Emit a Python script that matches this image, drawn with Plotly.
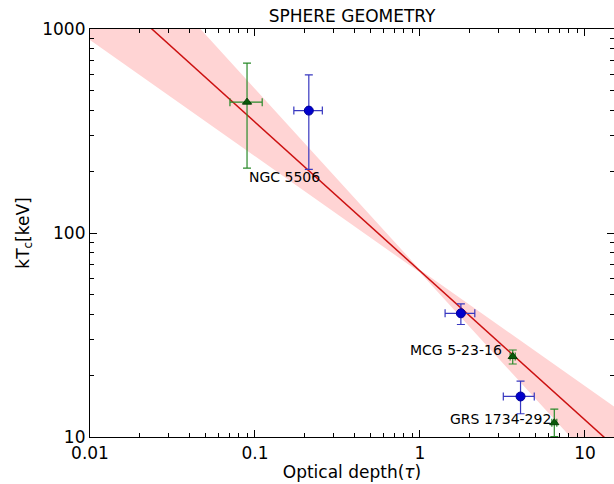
import numpy as np
import plotly.graph_objects as go

# ---- data ----
blue_tau = [0.212, 1.77, 4.07]
blue_tau_lo = [0.172, 1.42, 3.20]
blue_tau_hi = [0.256, 2.15, 4.93]
blue_kt = [398, 40.4, 15.8]
blue_kt_lo = [205, 35.6, 13.0]
blue_kt_hi = [596, 44.9, 18.8]

green_tau = [0.0895, 3.65, 6.52]
green_tau_lo = [0.0705, 3.52, 6.30]
green_tau_hi = [0.1106, 3.78, 6.75]
green_kt = [438, 24.8, 11.75]
green_kt_lo = [208, 22.8, 10.04]
green_kt_hi = [680, 26.7, 13.7]

fit_x = [0.01, 15]
fit_y = [1879, 9.02]

band_x = [0.01, 1.0, 15]
band_upper = [3926, 66, 14.1]
band_lower = [883, 64, 5.85]

labels = ["NGC 5506", "MCG 5-23-16", "GRS 1734-292"]
label_x = [0.089, 3.23, 6.37]
label_y = [188, 26.7, 12.2]
label_anchor = ["left", "right", "right"]

x_ticks = [0.01, 0.1, 1, 10]
x_ticktext = ["0.01", "0.1", "1", "10"]
y_ticks = [10, 100, 1000]
y_ticktext = ["10", "100", "1000"]

x_minor = [m * 10.0 ** e for e in range(-2, 2) for m in range(2, 10)]
y_minor = [m * 10.0 ** e for e in range(1, 3) for m in range(2, 10)]

FONT = "DejaVu Sans"

fig = go.Figure()

# confidence band
fig.add_trace(go.Scatter(
    x=band_x + band_x[::-1],
    y=band_upper + band_lower[::-1],
    fill="toself", fillcolor="#ffd4d4", line=dict(width=0),
    mode="lines", hoverinfo="skip", showlegend=False))

# fit line
fig.add_trace(go.Scatter(
    x=fit_x, y=fit_y, mode="lines",
    line=dict(color="#cc1111", width=1.5), showlegend=False))

def errs(v, lo, hi):
    return ([h - c for c, h in zip(v, hi)], [c - l for c, l in zip(v, lo)])

bx_p, bx_m = errs(blue_tau, blue_tau_lo, blue_tau_hi)
by_p, by_m = errs(blue_kt, blue_kt_lo, blue_kt_hi)
gx_p, gx_m = errs(green_tau, green_tau_lo, green_tau_hi)
gy_p, gy_m = errs(green_kt, green_kt_lo, green_kt_hi)

fig.add_trace(go.Scatter(
    x=green_tau, y=green_kt, mode="markers",
    marker=dict(symbol="triangle-up", size=8, color="#0a5a0a",
                line=dict(color="#063f06", width=1)),
    error_x=dict(type="data", symmetric=False, array=gx_p, arrayminus=gx_m,
                 color="#2a8a2a", thickness=1.2, width=4),
    error_y=dict(type="data", symmetric=False, array=gy_p, arrayminus=gy_m,
                 color="#2a8a2a", thickness=1.2, width=4),
    showlegend=False))

fig.add_trace(go.Scatter(
    x=blue_tau, y=blue_kt, mode="markers",
    marker=dict(symbol="circle", size=9, color="#0000cc",
                line=dict(color="#00009a", width=1)),
    error_x=dict(type="data", symmetric=False, array=bx_p, arrayminus=bx_m,
                 color="#3838c0", thickness=1.2, width=4),
    error_y=dict(type="data", symmetric=False, array=by_p, arrayminus=by_m,
                 color="#3838c0", thickness=1.2, width=4),
    showlegend=False))

for t, lx, ly, anc in zip(labels, label_x, label_y, label_anchor):
    fig.add_annotation(x=np.log10(lx), y=np.log10(ly), xref="x", yref="y",
                       text=t, showarrow=False, xanchor=anc, yanchor="middle",
                       font=dict(family=FONT, size=14, color="black"))

axis_common = dict(
    type="log", showgrid=False, zeroline=False,
    showline=True, linecolor="black", linewidth=1.2, mirror="allticks",
    ticks="inside", ticklen=7, tickwidth=1, tickcolor="black",
    tickfont=dict(family=FONT, size=17, color="black"),
)

fig.update_xaxes(
    range=[-2, np.log10(15)], tickmode="array", tickvals=x_ticks, ticktext=x_ticktext,
    minor=dict(tickmode="array", tickvals=x_minor, ticks="inside", ticklen=4,
               tickcolor="black", showgrid=False),
    title=dict(text="Optical depth(<i>τ</i>)", standoff=4,
               font=dict(family=FONT, size=17, color="black")),
    **axis_common)

fig.update_yaxes(
    range=[1, 3], tickmode="array", tickvals=y_ticks, ticktext=y_ticktext,
    minor=dict(tickmode="array", tickvals=y_minor, ticks="inside", ticklen=4,
               tickcolor="black", showgrid=False),
    title=dict(text="kT<sub>c</sub>[keV]", standoff=8,
               font=dict(family=FONT, size=17, color="black")),
    **axis_common)

fig.update_layout(
    width=614, height=484,
    margin=dict(l=90, r=0, t=29, b=47, autoexpand=False),
    paper_bgcolor="white", plot_bgcolor="white",
    title=dict(text="SPHERE GEOMETRY", x=0.5734, xanchor="center",
               y=1 - 16 / 484, yanchor="middle",
               font=dict(family=FONT, size=17, color="black")),
    font=dict(family=FONT),
)

fig.write_html("out.html")
